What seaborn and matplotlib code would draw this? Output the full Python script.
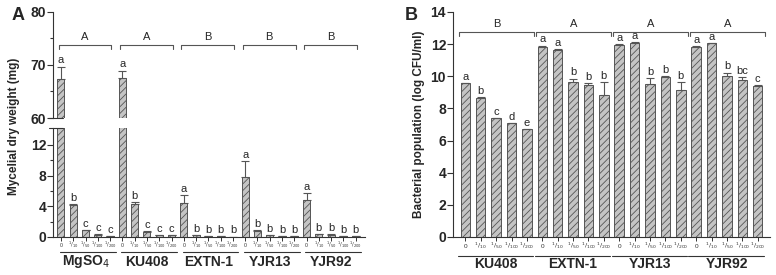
import numpy as np
import seaborn as sns
import matplotlib.pyplot as plt
from matplotlib import transforms

sns.set_style("ticks")
plt.rcParams['font.family'] = ['Liberation Sans', 'DejaVu Sans']
plt.rcParams['hatch.color'] = '#444444'
plt.rcParams['hatch.linewidth'] = 0.6

# dilution labels
doses = ['0', r'$^{1}/_{10}$', r'$^{1}/_{50}$', r'$^{1}/_{100}$', r'$^{1}/_{200}$']

# panel A: mycelial dry weight (mg)
groups_a = ['MgSO$_4$', 'KU408', 'EXTN-1', 'YJR13', 'YJR92']
weight_a = [67.3, 4.15, 0.9, 0.3, 0.15,
            67.5, 4.3, 0.7, 0.2, 0.2,
            4.4, 0.2, 0.1, 0.1, 0.05,
            7.8, 0.8, 0.2, 0.1, 0.1,
            4.85, 0.35, 0.3, 0.1, 0.1]
err_a = [2.4, 0.15, 0.05, 0.05, 0.02,
         1.4, 0.3, 0.05, 0.02, 0.02,
         1.1, 0.03, 0.02, 0.02, 0.01,
         2.1, 0.05, 0.03, 0.02, 0.02,
         0.85, 0.05, 0.05, 0.02, 0.02]
letters_a = ['a', 'b', 'c', 'c', 'c',
             'a', 'b', 'c', 'c', 'c',
             'a', 'b', 'b', 'b', 'b',
             'a', 'b', 'b', 'b', 'b',
             'a', 'b', 'b', 'b', 'b']
group_letters_a = ['A', 'A', 'B', 'B', 'B']

# panel B: bacterial population (log CFU/ml)
groups_b = ['KU408', 'EXTN-1', 'YJR13', 'YJR92']
pop_b = [9.56, 8.67, 7.39, 7.07, 6.70,
         11.85, 11.62, 9.66, 9.46, 8.84,
         11.95, 12.08, 9.52, 9.98, 9.15,
         11.85, 12.05, 10.04, 9.77, 9.40]
err_b = [0.02, 0.02, 0.02, 0.02, 0.02,
         0.05, 0.05, 0.2, 0.12, 0.8,
         0.05, 0.03, 0.35, 0.05, 0.48,
         0.04, 0.03, 0.18, 0.17, 0.06]
letters_b = ['a', 'b', 'c', 'd', 'e',
             'a', 'a', 'b', 'b', 'b',
             'a', 'a', 'b', 'b', 'b',
             'a', 'a', 'b', 'bc', 'c']
group_letters_b = ['B', 'A', 'A', 'A']

FILL = '#c4c4c4'
EDGE = '#555555'
LINE = '#333333'


def draw_bars(ax, vals, errs, width):
    x = np.arange(len(vals))
    sns.barplot(x=x, y=vals, ax=ax, color=FILL, width=width,
                edgecolor=EDGE, linewidth=0.7, saturation=1, errorbar=None)
    for p in ax.patches:
        p.set_hatch('/////')
    ax.errorbar(x, vals, yerr=[np.zeros(len(errs)), errs], fmt='none',
                ecolor=EDGE, elinewidth=0.8, capsize=3, capthick=0.8)


def xlabels_below(ax, n_groups, names, tick_y, line_y, name_y, lo, hi, fs):
    trans = transforms.blended_transform_factory(ax.transData, ax.transAxes)
    for i in range(n_groups * 5):
        ax.text(i, tick_y, doses[i % 5], transform=trans, ha='center', va='center',
                fontsize=fs, color='#333333')
    for g in range(n_groups):
        ax.plot([5 * g + lo, 5 * g + hi], [line_y, line_y], transform=trans,
                color=LINE, lw=0.8, clip_on=False)
        ax.text(5 * g + 2, name_y, names[g], transform=trans, ha='center', va='center',
                fontsize=10, fontweight='bold')


def brackets(ax, n_groups, labels, y, drop, lo, hi):
    for g in range(n_groups):
        x0, x1 = 5 * g + lo, 5 * g + hi
        ax.plot([x0, x0, x1, x1], [y - drop, y, y, y - drop], color='#555555', lw=0.8,
                clip_on=False)
        ax.text((x0 + x1) / 2, y + drop * 0.6, labels[g], ha='center', va='bottom', fontsize=8)


fig = plt.figure(figsize=(7.76, 2.75), dpi=100)

# ---- panel A (broken axis) ----
ax_top = fig.add_axes([0.0683, 0.5709, 0.402, 0.3855])
ax_bot = fig.add_axes([0.0683, 0.1382, 0.402, 0.3963])
for ax in (ax_top, ax_bot):
    draw_bars(ax, weight_a, err_a, 0.57)
    ax.set_xlim(-0.65, 24.75)
    for s in ['top', 'right']:
        ax.spines[s].set_visible(False)
    ax.spines['left'].set_color(LINE)
    ax.tick_params(axis='y', labelsize=10, width=0.8, length=4, color=LINE, pad=1)
ax_top.set_ylim(60, 80)
ax_top.set_yticks([60, 70, 80])
ax_top.set_yticks([65, 75], minor=True)
ax_top.spines['bottom'].set_visible(False)
ax_top.set_xticks([])
ax_bot.set_ylim(0, 14.2)
ax_bot.set_yticks([0, 4, 8, 12])
ax_bot.set_yticks([2, 6, 10], minor=True)
ax_bot.tick_params(axis='y', which='minor', length=2.5, width=0.8, color=LINE)
ax_top.tick_params(axis='y', which='minor', length=2.5, width=0.8, color=LINE)
ax_bot.spines['bottom'].set_color(LINE)
ax_bot.set_xticks(range(25))
ax_bot.set_xticklabels([])
ax_bot.tick_params(axis='x', length=3, width=0.7, color=LINE)
for ax in (ax_top, ax_bot):
    for t in ax.get_yticklabels():
        t.set_fontweight('bold')

# break marks
ax_top.plot([-0.65 - 0.35, -0.65 + 0.8], [60, 60], color=LINE, lw=0.8, clip_on=False)
ax_bot.plot([-0.65 - 0.35, -0.65 + 0.8], [14.2, 14.2], color=LINE, lw=0.8, clip_on=False)

for i, (v, e, l) in enumerate(zip(weight_a, err_a, letters_a)):
    if v > 20:
        ax_top.text(i, v + e + 0.3, l, ha='center', va='bottom', fontsize=8)
    else:
        ax_bot.text(i, v + e + 0.15, l, ha='center', va='bottom', fontsize=8)

brackets(ax_top, 5, group_letters_a, 73.8, 0.8, -0.2, 4.1)
xlabels_below(ax_bot, 5, groups_a, -0.075, -0.14, -0.225, -0.1, 4.45, 3.7)
fig.text(0.018, 0.54, 'Mycelial dry weight (mg)', rotation=90, ha='center', va='center',
         fontsize=8.5, fontweight='bold')
fig.text(0.015, 0.945, 'A', fontsize=13, fontweight='bold', ha='left', va='center')

# ---- panel B ----
ax_b = fig.add_axes([0.5838, 0.1382, 0.4085, 0.8182])
draw_bars(ax_b, pop_b, err_b, 0.62)
ax_b.set_xlim(-0.8, 19.8)
ax_b.set_ylim(0, 14)
ax_b.set_yticks(range(0, 15, 2))
for s in ['top', 'right']:
    ax_b.spines[s].set_visible(False)
ax_b.spines['left'].set_color(LINE)
ax_b.spines['bottom'].set_color(LINE)
ax_b.tick_params(axis='y', labelsize=10, width=0.8, length=4, color=LINE, pad=1)
ax_b.set_xticks(range(20))
ax_b.set_xticklabels([])
ax_b.tick_params(axis='x', length=3, width=0.7, color=LINE)
for t in ax_b.get_yticklabels():
    t.set_fontweight('bold')
for i, (v, e, l) in enumerate(zip(pop_b, err_b, letters_b)):
    ax_b.text(i, v + e + 0.08, l, ha='center', va='bottom', fontsize=8)
brackets(ax_b, 4, group_letters_b, 12.76, 0.28, -0.4, 4.45)
xlabels_below(ax_b, 4, groups_b, -0.042, -0.083, -0.118, -0.5, 4.4, 4.6)
ax_b.set_ylabel('Bacterial population (log CFU/ml)', fontsize=8.5, fontweight='bold',
                labelpad=4)
fig.text(0.522, 0.945, 'B', fontsize=13, fontweight='bold', ha='left', va='center')

fig.savefig('out.png', dpi=100)
